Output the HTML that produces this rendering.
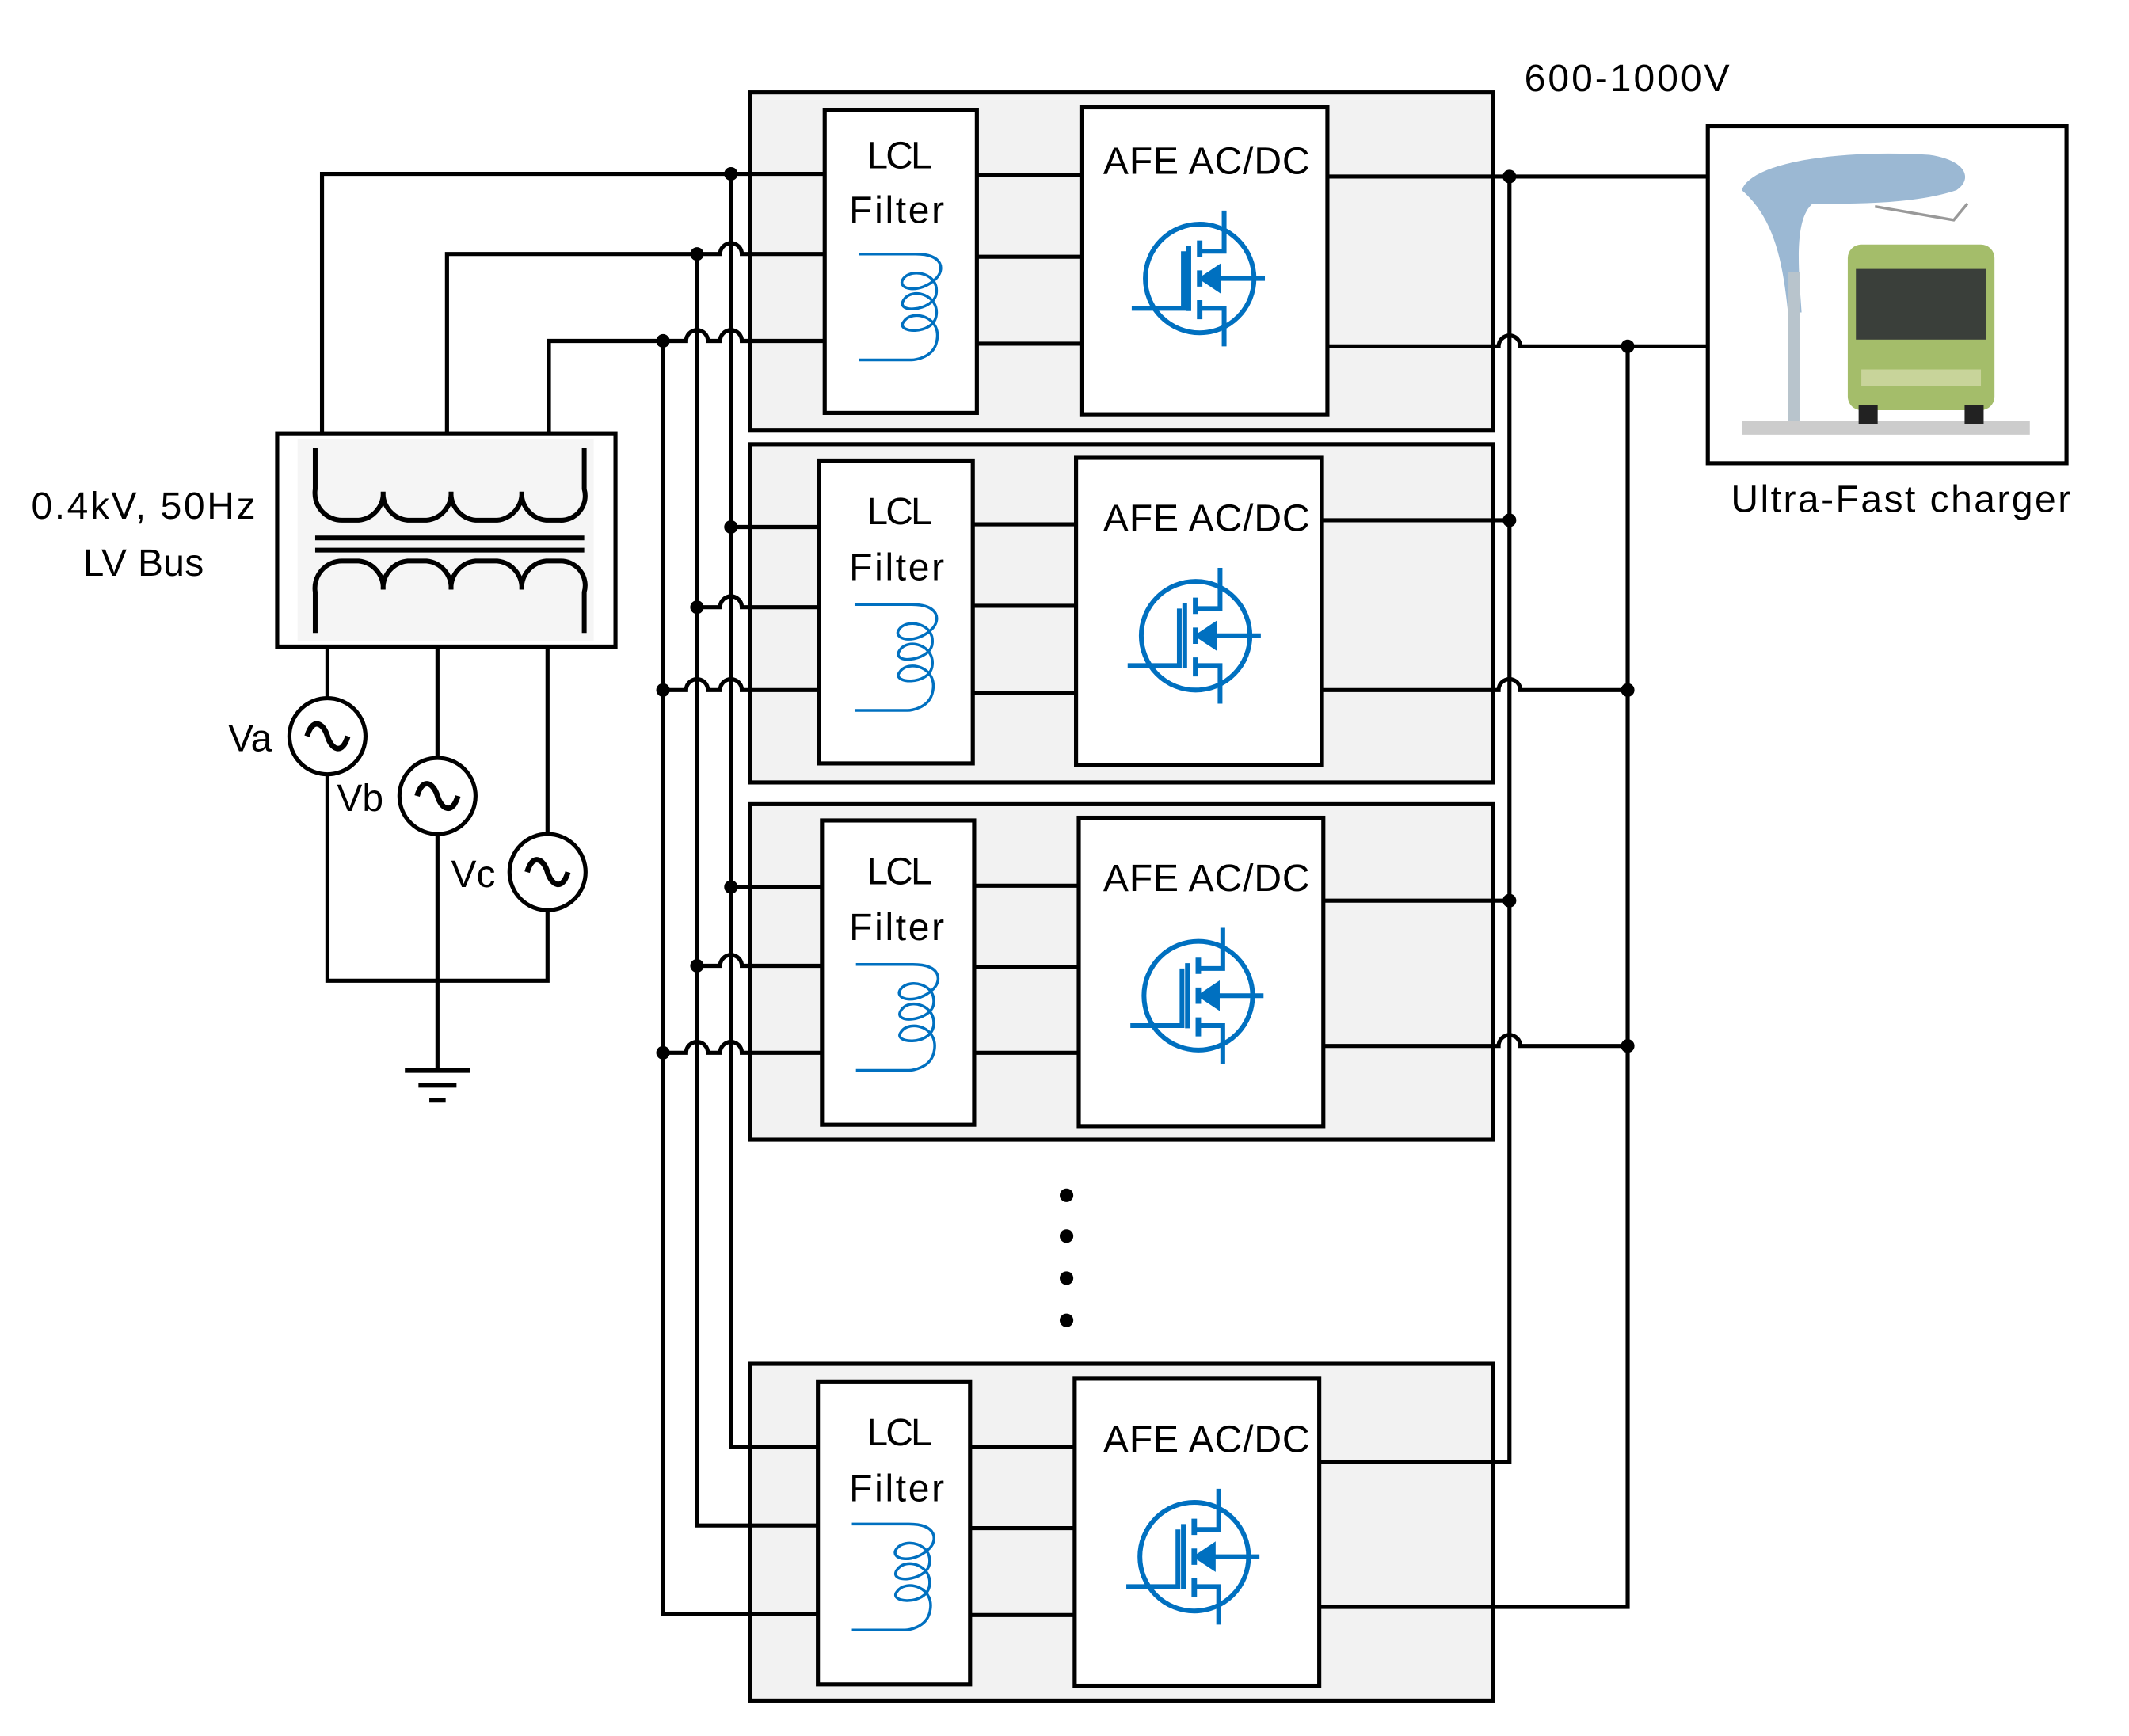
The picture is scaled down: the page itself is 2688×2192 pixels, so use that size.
<!DOCTYPE html>
<html><head><meta charset="utf-8"><style>html,body{margin:0;padding:0;background:#fff}svg{display:block}</style></head><body>
<svg width="2688" height="2192" viewBox="0 0 1567 1278" preserveAspectRatio="none" xmlns="http://www.w3.org/2000/svg" font-family="Liberation Sans, sans-serif">
<defs>
<g id="coil" fill="none" stroke="#0070c0">
<path vector-effect="non-scaling-stroke" stroke-width="3.5" d="M0 0 H28 C42 0 42 12 38 18 C30 30 18 26 22 18 C26 10 40 14 38 30 C36 42 18 44 22 34 C26 24 40 30 38 46 C36 60 18 58 22 50 C26 40 42 46 38 66 C36 76 28 78 26 78 H0"/>
</g>
<g id="fet" fill="none" stroke="#0070c0" stroke-width="3.5">
<circle cx="0" cy="0" r="40"/>
<path d="M18 -50 V-20 H0 M18 50 V22 H0 M-8 -24 V24 M-12 -20 V22 H-50 M0 0 H48"/>
<path d="M0 -28 V-16 M0 -6 V6 M0 16 V30" stroke-width="4"/>
<path d="M2 0 L14 -8 L14 8 Z" fill="#0070c0"/>
</g>
</defs>
<g stroke="#000" stroke-width="3" fill="none">
<rect x="552" y="68" width="547" height="249" fill="#f2f2f2"/>
<rect x="552" y="327" width="547" height="249" fill="#f2f2f2"/>
<rect x="552" y="592" width="547" height="247" fill="#f2f2f2"/>
<rect x="552" y="1004" width="547" height="248" fill="#f2f2f2"/>
<rect x="607" y="81" width="112" height="223" fill="#fff"/>
<rect x="796" y="79" width="181" height="226" fill="#fff"/>
<rect x="603" y="339" width="113" height="223" fill="#fff"/>
<rect x="792" y="337" width="181" height="226" fill="#fff"/>
<rect x="605" y="604" width="112" height="224" fill="#fff"/>
<rect x="794" y="602" width="180" height="227" fill="#fff"/>
<rect x="602" y="1017" width="112" height="223" fill="#fff"/>
<rect x="791" y="1015" width="180" height="226" fill="#fff"/>
<path d="M719 129H796M719 189H796M719 253H796M716 386H792M716 446H792M716 510H792M717 652H794M717 712H794M717 775H794M714 1065H791M714 1125H791M714 1189H791"/>
<path d="M538 128V1065H602M513 187V1123H602M488 251V1188H602"/>
<path d="M237 319V128H607"/>
<path d="M329 319V187H530A8 8 0 0 1 546 187H607"/>
<path d="M404 319V251H505A8 8 0 0 1 521 251H530A8 8 0 0 1 546 251H607"/>
<path d="M538 388H603M513 447H530A8 8 0 0 1 546 447H603M488 508H505A8 8 0 0 1 521 508H530A8 8 0 0 1 546 508H603"/>
<path d="M538 653H605M513 711H530A8 8 0 0 1 546 711H605M488 775H505A8 8 0 0 1 521 775H530A8 8 0 0 1 546 775H605"/>
<path d="M977 130H1257M977 255H1103A8 8 0 0 1 1119 255H1257"/>
<path d="M1111 130V1076H971M1198 255V1183H971"/>
<path d="M973 383H1111M973 508H1103A8 8 0 0 1 1119 508H1198"/>
<path d="M974 663H1111M974 770H1103A8 8 0 0 1 1119 770H1198"/>
<rect x="204" y="319" width="249" height="157" fill="#fff"/>
<rect x="219" y="323" width="218" height="149" fill="#f5f5f5" stroke="none"/>
<g stroke-width="3.5">
<path d="M232 330V360A20 20 0 0 0 252 383H264A20 20 0 0 0 282 362A20 20 0 0 0 300 383H314A20 20 0 0 0 332 362A20 20 0 0 0 350 383H366A20 20 0 0 0 384 362A20 20 0 0 0 402 383H412A18 18 0 0 0 430 360V330"/>
<path d="M232 396H430M232 405H430"/>
<path d="M232 466V436A20 20 0 0 1 252 413H264A20 20 0 0 1 282 434A20 20 0 0 1 300 413H314A20 20 0 0 1 332 434A20 20 0 0 1 350 413H366A20 20 0 0 1 384 434A20 20 0 0 1 402 413H412A18 18 0 0 1 430 436V466"/>
</g>
<path d="M241 476V722H403V476M322 476V788"/>
<circle cx="241" cy="542" r="28" fill="#fff"/>
<circle cx="322" cy="586" r="28" fill="#fff"/>
<circle cx="403" cy="642" r="28" fill="#fff"/>
<g stroke-width="4">
<path d="M226 542C230 528 238 532 241 542S252 556 256 542"/>
<path d="M307 586C311 572 319 576 322 586S333 600 337 586"/>
<path d="M388 642C392 628 400 632 403 642S414 656 418 642"/>
</g>
<path d="M298 788H346M308 799H336M316 810H328" stroke-width="3.5"/>
<rect x="1257" y="93" width="264" height="248" fill="#fff"/>
</g>
<g fill="#000">
<circle cx="538" cy="128" r="5"/><circle cx="513" cy="187" r="5"/><circle cx="488" cy="251" r="5"/>
<circle cx="538" cy="388" r="5"/><circle cx="513" cy="447" r="5"/><circle cx="488" cy="508" r="5"/>
<circle cx="538" cy="653" r="5"/><circle cx="513" cy="711" r="5"/><circle cx="488" cy="775" r="5"/>
<circle cx="1111" cy="130" r="5"/><circle cx="1198" cy="255" r="5"/>
<circle cx="1111" cy="383" r="5"/><circle cx="1198" cy="508" r="5"/>
<circle cx="1111" cy="663" r="5"/><circle cx="1198" cy="770" r="5"/>
<circle cx="785" cy="880" r="5"/><circle cx="785" cy="910" r="5"/><circle cx="785" cy="941" r="5"/><circle cx="785" cy="972" r="5"/>
</g>
<use href="#coil" transform="translate(632 187) scale(1.5 1)"/>
<use href="#coil" transform="translate(629 445) scale(1.5 1)"/>
<use href="#coil" transform="translate(630 710) scale(1.5 1)"/>
<use href="#coil" transform="translate(627 1122) scale(1.5 1)"/>
<use href="#fet" x="883" y="205"/><use href="#fet" x="880" y="468"/><use href="#fet" x="882" y="733"/><use href="#fet" x="879" y="1146"/>
<g>
<path d="M1282 140C1290 118 1360 110 1420 114C1448 118 1452 132 1440 140C1410 150 1370 150 1334 150C1320 162 1324 200 1326 230L1316 230C1312 190 1305 160 1282 140Z" fill="#9bb8d3"/>
<rect x="1316" y="200" width="9" height="118" fill="#b8c4cc"/>
<path d="M1380 152L1438 162L1448 150" stroke="#999" fill="none" stroke-width="2"/>
<rect x="1282" y="310" width="212" height="10" fill="#ccc"/>
<rect x="1360" y="180" width="108" height="122" rx="10" fill="#a4bd6a"/>
<rect x="1366" y="198" width="96" height="52" fill="#3a3f3a"/>
<rect x="1368" y="298" width="14" height="14" fill="#222"/><rect x="1446" y="298" width="14" height="14" fill="#222"/>
<rect x="1370" y="272" width="88" height="12" fill="#c8d49a"/>
</g>
<g font-size="28" fill="#000">
<text x="638" y="124" textLength="48">LCL</text><text x="625" y="164" textLength="70">Filter</text>
<text x="638" y="386" textLength="48">LCL</text><text x="625" y="427" textLength="70">Filter</text>
<text x="638" y="651" textLength="48">LCL</text><text x="625" y="692" textLength="70">Filter</text>
<text x="638" y="1064" textLength="48">LCL</text><text x="625" y="1105" textLength="70">Filter</text>
<text x="812" y="128" textLength="152">AFE AC/DC</text>
<text x="812" y="391" textLength="152">AFE AC/DC</text>
<text x="812" y="656" textLength="152">AFE AC/DC</text>
<text x="812" y="1069" textLength="152">AFE AC/DC</text>
<text x="1122" y="67" textLength="151">600-1000V</text>
<text x="1274" y="377" textLength="250">Ultra-Fast charger</text>
<text x="23" y="382" textLength="165">0.4kV, 50Hz</text>
<text x="61" y="424" textLength="89">LV Bus</text>
<text x="168" y="553">Va</text>
<text x="248" y="597">Vb</text>
<text x="332" y="653">Vc</text>
</g>
</svg>
</body></html>
